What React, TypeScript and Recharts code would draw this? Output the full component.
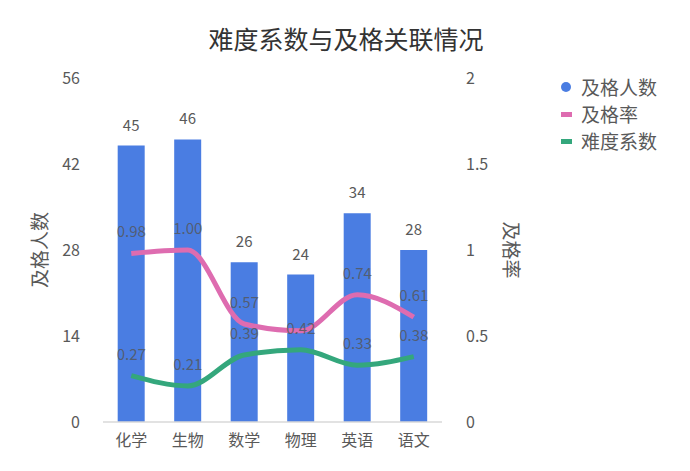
import React from 'react';
import { ComposedChart, Bar, Line, XAxis, YAxis, Legend, LabelList } from 'recharts';

const subjects = ['化学', '生物', '数学', '物理', '英语', '语文'];
const passCounts = [45, 46, 26, 24, 34, 28];
const passRates = [0.98, 1.0, 0.57, 0.53, 0.74, 0.61];
const difficulty = [0.27, 0.21, 0.39, 0.42, 0.33, 0.38];
const hiddenRateLabelIndex = 3;
const leftTicks = [0, 14, 28, 42, 56];
const rightTicks = [0, 0.5, 1, 1.5, 2];

const BLUE = '#4a7de2';
const PINK = '#de6cb0';
const GREEN = '#34a77c';
const TEXT = '#595959';
const FONT = '"Noto Sans CJK SC", "Noto Sans", sans-serif';

const data = subjects.map((s, i) => ({
  subject: s,
  count: passCounts[i],
  rate: passRates[i],
  rateLabel: i === hiddenRateLabelIndex ? null : passRates[i],
  diff: difficulty[i],
}));

const legendItems = [
  { name: '及格人数', color: BLUE, kind: 'circle' },
  { name: '及格率', color: PINK, kind: 'line' },
  { name: '难度系数', color: GREEN, kind: 'line' },
];

const renderLegend = () => (
  <div style={{ fontFamily: FONT }}>
    {legendItems.map((it) => (
      <div key={it.name} style={{ display: 'flex', alignItems: 'center', height: 27, fontSize: 19, color: TEXT }}>
        <svg width={20} height={20} style={{ marginRight: 4 }}>
          {it.kind === 'circle' ? (
            <circle cx={9} cy={10} r={5} fill={it.color} />
          ) : (
            <rect x={4} y={8} width={11} height={5} fill={it.color} />
          )}
        </svg>
        <span>{it.name}</span>
      </div>
    ))}
  </div>
);

const fmt2 = (v: any) => (typeof v === 'number' ? v.toFixed(2) : v);

export default function App() {
  return (
    <div style={{ position: 'absolute', left: 0, top: 0, width: 690, height: 471, background: '#fff' }}>
      <div
        style={{
          position: 'absolute',
          left: 0,
          top: 20,
          width: 692,
          textAlign: 'center',
          fontFamily: FONT,
          fontSize: 25,
          color: '#333',
          lineHeight: '36px',
        }}
      >
        难度系数与及格关联情况
      </div>
      <ComposedChart
        width={690}
        height={471}
        data={data}
        margin={{ top: 78, right: 38, bottom: 17, left: 20 }}
        barCategoryGap="26%"
        style={{ fontFamily: FONT }}
      >
        <XAxis
          dataKey="subject"
          axisLine={{ stroke: '#d9d9d9', strokeWidth: 1.5 }}
          tickLine={false}
          tickSize={0}
          tickMargin={13}
          height={32}
          tick={{ fill: TEXT, fontSize: 16 }}
        />
        <YAxis
          yAxisId="left"
          domain={[0, 56]}
          ticks={leftTicks}
          axisLine={false}
          tickLine={false}
          tickSize={0}
          tickMargin={23}
          width={83}
          tick={{ fill: TEXT, fontSize: 16 }}
          label={{
            content: (p: any) => {
              const vb = p.viewBox;
              const cx = vb.x + 18;
              const cy = vb.y + vb.height / 2;
              return (
                <text x={cx} y={cy} textAnchor="middle" dominantBaseline="central" fill={TEXT} fontSize={19} transform={`rotate(-90, ${cx}, ${cy})`}>
                  及格人数
                </text>
              );
            },
          }}
        />
        <YAxis
          yAxisId="right"
          orientation="right"
          domain={[0, 2]}
          ticks={rightTicks}
          axisLine={false}
          tickLine={false}
          tickSize={0}
          tickMargin={24}
          width={80}
          tick={{ fill: TEXT, fontSize: 16 }}
          label={{
            content: (p: any) => {
              const vb = p.viewBox;
              const cx = vb.x + 70;
              const cy = vb.y + vb.height / 2;
              return (
                <text x={cx} y={cy} textAnchor="middle" dominantBaseline="central" fill={TEXT} fontSize={19} transform={`rotate(90, ${cx}, ${cy})`}>
                  及格率
                </text>
              );
            },
          }}
        />
        <Legend
          layout="vertical"
          align="right"
          verticalAlign="top"
          width={130}
          height={90}
          wrapperStyle={{ left: 557, top: 73, right: 'auto', width: 130, height: 90 }}
          content={renderLegend}
        />
        <Bar yAxisId="left" dataKey="count" fill={BLUE} isAnimationActive={false}>
          <LabelList dataKey="count" position="top" offset={15} fill={TEXT} fontSize={15} />
        </Bar>
        <Line
          yAxisId="right"
          type="monotone"
          dataKey="rate"
          stroke={PINK}
          strokeWidth={5}
          dot={false}
          activeDot={false}
          isAnimationActive={false}
        >
          <LabelList dataKey="rateLabel" position="top" offset={16} fill="#555" fillOpacity={0.8} fontSize={15} formatter={fmt2} />
        </Line>
        <Line
          yAxisId="right"
          type="monotone"
          dataKey="diff"
          stroke={GREEN}
          strokeWidth={5}
          dot={false}
          activeDot={false}
          isAnimationActive={false}
        >
          <LabelList dataKey="diff" position="top" offset={16} fill="#555" fillOpacity={0.8} fontSize={15} formatter={fmt2} />
        </Line>
      </ComposedChart>
    </div>
  );
}
